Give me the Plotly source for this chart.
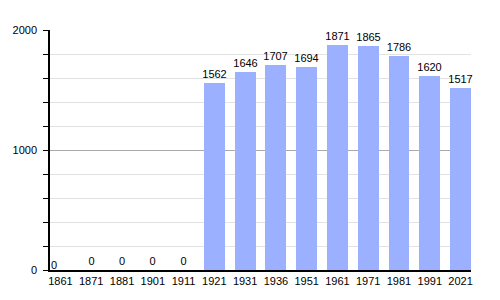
import plotly.graph_objects as go

years = ["1861", "1871", "1881", "1901", "1911", "1921", "1931", "1936",
         "1951", "1961", "1971", "1981", "1991", "2021"]
population = [0, 0, 0, 0, 0, 1562, 1646, 1707, 1694, 1871, 1865, 1786, 1620, 1517]
y_ticks = [0, 1000, 2000]

idx = list(range(len(years)))
texts = [str(v) for v in population]
texts[0] = ""

FONT = "Liberation Sans, Arial, sans-serif"

fig = go.Figure()
fig.add_trace(go.Bar(
    x=idx, y=population, width=0.68,
    marker=dict(color="#9bb0ff", line=dict(width=0)),
    text=texts, textposition="outside", cliponaxis=False, constraintext="none",
    textfont=dict(family=FONT, size=11, color="black"),
))
fig.add_annotation(x=-0.34, y=0, text=str(population[0]), showarrow=False,
                   xanchor="left", yanchor="bottom", xshift=-1, yshift=-3,
                   font=dict(family=FONT, size=11, color="black"))

fig.update_layout(
    width=500, height=300,
    margin=dict(l=50, r=29, t=30, b=30),
    paper_bgcolor="white", plot_bgcolor="white",
    showlegend=False, bargap=0,
    font=dict(family=FONT, size=11, color="black"),
    xaxis=dict(range=[-0.34, len(years) - 1 + 0.34], tickvals=idx, ticktext=years,
               showgrid=False, zeroline=False, showline=True, linecolor="black",
               linewidth=1.5, ticks="", ticklabelstandoff=0, fixedrange=True),
    yaxis=dict(range=[0, 2000], tickvals=y_ticks, showgrid=True, gridcolor="#aaaaaa",
               gridwidth=1, zeroline=False, showline=True, linecolor="black", linewidth=1.5,
               ticks="outside", ticklen=5, tickcolor="black", ticklabelstandoff=4,
               minor=dict(dtick=200, showgrid=True, gridcolor="#e2e2e2", gridwidth=1,
                          ticks="outside", ticklen=5, tickcolor="black")),
)

fig.write_html("out.html")
